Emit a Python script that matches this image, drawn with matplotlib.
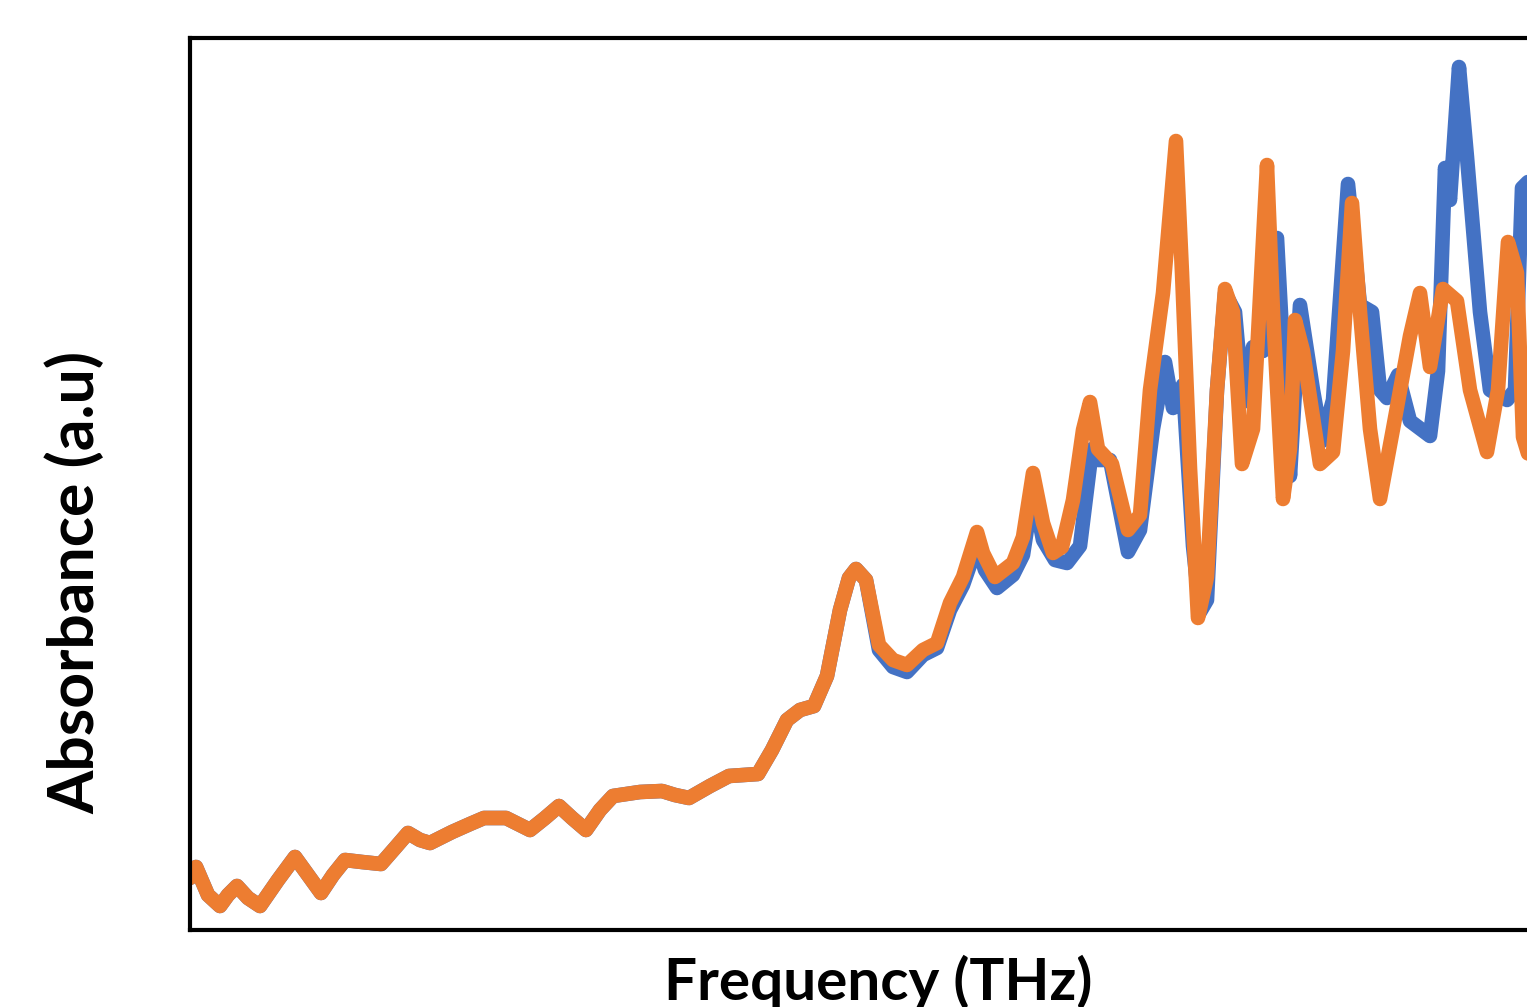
import numpy as np
import matplotlib
matplotlib.use('Agg')
import matplotlib.pyplot as plt

# low-frequency part, where both spectra lie on top of each other
freq_low = [0.000, 0.012, 0.036, 0.060, 0.076, 0.094, 0.116, 0.140, 0.176, 0.210,
            0.236, 0.262, 0.286, 0.310, 0.344, 0.382, 0.410, 0.436, 0.460, 0.480,
            0.524, 0.560, 0.588, 0.632, 0.656, 0.680, 0.710, 0.738, 0.764, 0.792,
            0.820, 0.846, 0.900, 0.944, 0.970, 0.998, 1.040, 1.078, 1.136, 1.164,
            1.194, 1.220, 1.248, 1.274, 1.300, 1.318, 1.332, 1.352]
abs_low = [0.052, 0.063, 0.035, 0.024, 0.035, 0.044, 0.032, 0.024, 0.050, 0.073,
           0.055, 0.037, 0.055, 0.070, 0.068, 0.066, 0.082, 0.097, 0.090, 0.087,
           0.098, 0.106, 0.112, 0.112, 0.106, 0.100, 0.112, 0.124, 0.112, 0.100,
           0.120, 0.134, 0.138, 0.139, 0.135, 0.132, 0.144, 0.154, 0.156, 0.180,
           0.210, 0.220, 0.224, 0.254, 0.320, 0.352, 0.361, 0.350]

# high-frequency part, blue sample
freq_blue = [1.378, 1.406, 1.434, 1.466, 1.494, 1.520, 1.546, 1.574, 1.590, 1.614,
             1.646, 1.666, 1.686, 1.706, 1.730, 1.754, 1.780, 1.804, 1.816, 1.840,
             1.876, 1.900, 1.926, 1.950, 1.966, 1.986, 2.006, 2.020, 2.034, 2.054,
             2.070, 2.090, 2.106, 2.126, 2.146, 2.174, 2.186, 2.200, 2.220, 2.246,
             2.264, 2.286, 2.316, 2.340, 2.364, 2.380, 2.394, 2.416, 2.440, 2.480,
             2.496, 2.510, 2.520, 2.538, 2.554, 2.580, 2.600, 2.634, 2.650, 2.664,
             2.680]
abs_blue = [0.280, 0.263, 0.258, 0.275, 0.282, 0.320, 0.345, 0.385, 0.360, 0.342,
            0.355, 0.375, 0.440, 0.390, 0.370, 0.367, 0.384, 0.481, 0.470, 0.470,
            0.378, 0.400, 0.501, 0.568, 0.522, 0.545, 0.384, 0.318, 0.330, 0.540,
            0.637, 0.618, 0.528, 0.583, 0.579, 0.692, 0.579, 0.454, 0.625, 0.540,
            0.489, 0.530, 0.746, 0.625, 0.618, 0.540, 0.532, 0.555, 0.509, 0.494,
            0.559, 0.762, 0.730, 0.863, 0.773, 0.618, 0.540, 0.530, 0.540, 0.742,
            0.750]

# high-frequency part, orange sample
freq_orange = [1.378, 1.406, 1.434, 1.466, 1.494, 1.520, 1.546, 1.574, 1.586, 1.610,
               1.646, 1.666, 1.686, 1.706, 1.726, 1.744, 1.766, 1.786, 1.800, 1.816,
               1.844, 1.876, 1.900, 1.920, 1.946, 1.972, 1.984, 2.000, 2.016, 2.034,
               2.054, 2.070, 2.086, 2.104, 2.126, 2.154, 2.166, 2.186, 2.200, 2.210,
               2.226, 2.260, 2.286, 2.306, 2.324, 2.340, 2.360, 2.380, 2.406, 2.440,
               2.460, 2.480, 2.506, 2.534, 2.560, 2.594, 2.616, 2.636, 2.654, 2.666,
               2.680]
abs_orange = [0.285, 0.270, 0.265, 0.280, 0.287, 0.327, 0.353, 0.398, 0.377, 0.353,
              0.367, 0.393, 0.457, 0.407, 0.377, 0.383, 0.430, 0.500, 0.528, 0.481,
              0.466, 0.400, 0.415, 0.540, 0.637, 0.789, 0.657, 0.462, 0.312, 0.353,
              0.540, 0.641, 0.618, 0.466, 0.501, 0.765, 0.618, 0.431, 0.481, 0.610,
              0.579, 0.466, 0.478, 0.579, 0.727, 0.618, 0.501, 0.431, 0.501, 0.594,
              0.637, 0.563, 0.641, 0.629, 0.540, 0.478, 0.540, 0.688, 0.657, 0.493,
              0.470]

blue = '#4472C4'
orange = '#ED7D31'

fig = plt.figure(figsize=(15.27, 10.07), dpi=100)
# axes runs past the right edge of the picture, like the cropped original
ax = fig.add_axes([190 / 1527, 77 / 1007, 1376 / 1527, 892 / 1007])

line_kw = dict(lw=10.5, solid_joinstyle='round', solid_capstyle='round')
ax.plot(freq_low + freq_blue, abs_low + abs_blue, color=blue, **line_kw)
ax.plot(freq_low + freq_orange, abs_low + abs_orange, color=orange, **line_kw)

ax.set_xlim(0, 2.752)
ax.set_ylim(0, 0.892)
ax.set_xticks([])
ax.set_yticks([])
for s in ax.spines.values():
    s.set_linewidth(3)
    s.set_color('black')
ax.spines['right'].set_visible(False)

fig.text(878 / 1527, 1 - 955 / 1007, 'Frequency (THz)', ha='center', va='top',
         fontsize=42, fontweight='bold', family=['Lato', 'DejaVu Sans'])
fig.text(75 / 1527, 1 - 582 / 1007, 'Absorbance (a.u)', ha='center', va='center',
         rotation=90, fontsize=45, fontweight='bold', family=['Lato', 'DejaVu Sans'])

fig.savefig('out.png', dpi=100)
